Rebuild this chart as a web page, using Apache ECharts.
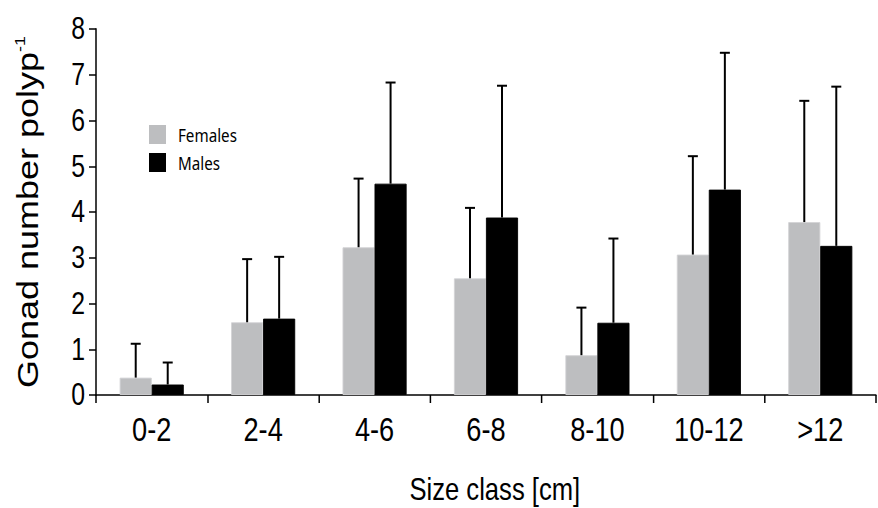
<!DOCTYPE html>
<html>
<head>
<meta charset="utf-8">
<script src="https://cdn.jsdelivr.net/npm/echarts@6/dist/echarts.min.js"></script>
<style>
html,body{margin:0;padding:0;background:#fff;overflow:hidden;width:878px;height:508px;}
#wrap{width:878px;height:508px;overflow:hidden;position:relative;}
#chart{width:1097.5px;height:508px;transform:scaleX(0.8);transform-origin:0 0;position:absolute;left:0;top:0;}
</style>
</head>
<body>
<div id="wrap"><div id="chart"></div></div>
<script>
var categories = ['0-2', '2-4', '4-6', '6-8', '8-10', '10-12', '>12'];
var femaleMean = [0.38, 1.59, 3.23, 2.55, 0.87, 3.07, 3.78];
var femaleSD   = [0.74, 1.38, 1.50, 1.54, 1.04, 2.15, 2.65];
var maleMean   = [0.23, 1.67, 4.62, 3.88, 1.58, 4.49, 3.26];
var maleSD     = [0.48, 1.35, 2.21, 2.88, 1.84, 2.99, 3.48];
var yTicks = [0, 1, 2, 3, 4, 5, 6, 7, 8];

// the original figure is horizontally condensed; the chart is drawn wider and squeezed by CSS (scaleX 0.8)
var SX = 0.8;
var FONT = "'Liberation Sans', Arial, Helvetica, sans-serif";
var LEG_FONT = "'Noto Sans', 'Open Sans', sans-serif";
var BAR_W = 32 / SX;

function errData(mean, sd) {
  return mean.map(function (m, i) { return [i, m, sd[i]]; });
}
function errRender(offset) {
  return function (params, api) {
    var base = api.coord([api.value(0), api.value(1)]);
    var top = api.coord([api.value(0), api.value(1) + api.value(2)]);
    var x = base[0] + offset;
    var cap = 5 / SX;
    return {
      type: 'group',
      children: [
        { type: 'line', shape: { x1: x, y1: base[1], x2: x, y2: top[1] },
          style: { stroke: '#000', lineWidth: 2 / SX } },
        { type: 'line', shape: { x1: x - cap, y1: top[1], x2: x + cap, y2: top[1] },
          style: { stroke: '#000', lineWidth: 2 } }
      ]
    };
  };
}

var chart = echarts.init(document.getElementById('chart'), null, { renderer: 'svg', width: 878 / SX, height: 508 });
chart.setOption({
  animation: false,
  backgroundColor: '#ffffff',
  grid: { left: 96 / SX, right: 2 / SX, top: 29, bottom: 113, containLabel: false, outerBoundsMode: 'none' },
  legend: {
    data: ['Females', 'Males'],
    orient: 'vertical',
    left: 145 / SX, top: 120,
    icon: 'rect',
    itemWidth: 17 / SX, itemHeight: 19, itemGap: 9,
    textStyle: { fontFamily: LEG_FONT, fontSize: 19, color: '#000', padding: [0, 0, 0, 10] },
    itemStyle: { borderWidth: 0 }
  },
  xAxis: {
    type: 'category',
    data: categories,
    boundaryGap: true,
    axisLine: { lineStyle: { color: '#000', width: 1.5 } },
    axisTick: { show: true, length: 8, inside: false, lineStyle: { color: '#000', width: 1.5 / SX } },
    axisLabel: { fontFamily: FONT, fontSize: 34, color: '#000', margin: 17, interval: 0 },
    name: 'Size class [cm]',
    nameLocation: 'middle',
    nameGap: 78,
    nameTextStyle: { fontFamily: FONT, fontSize: 32, color: '#000', padding: [0, 0, 0, 22] },
    splitLine: { show: false }
  },
  yAxis: {
    type: 'value',
    min: yTicks[0], max: yTicks[yTicks.length - 1], interval: 1,
    axisLine: { show: true, lineStyle: { color: '#000', width: 1.5 / SX } },
    axisTick: { show: true, length: 7 / SX, inside: false, lineStyle: { color: '#000', width: 1.5 } },
    axisLabel: { fontFamily: FONT, fontSize: 31, color: '#000', margin: 11 / SX },
    splitLine: { show: false },
    name: '{a|Gonad number polyp}{s|-1}',
    nameLocation: 'middle',
    nameGap: 66,
    nameTextStyle: {
      color: '#000',
      rich: {
        a: { fontFamily: FONT, fontSize: 36, color: '#000' },
        s: { fontFamily: FONT, fontSize: 18, color: '#000', padding: [0, 0, 20, 0] }
      }
    }
  },
  series: [
    {
      name: 'Females', type: 'bar', data: femaleMean,
      barWidth: BAR_W, barGap: '0%',
      itemStyle: { color: '#bdbec0', borderColor: '#d2d3d5', borderWidth: 1 },
      z: 2
    },
    {
      name: 'Males', type: 'bar', data: maleMean,
      barWidth: BAR_W, barGap: '0%',
      itemStyle: { color: '#000000', borderColor: '#000', borderWidth: 1 },
      z: 2
    },
    {
      name: 'Females SD', type: 'custom', data: errData(femaleMean, femaleSD),
      renderItem: errRender(-BAR_W / 2), z: 3, silent: true,
      encode: { x: 0, y: [1, 2] }
    },
    {
      name: 'Males SD', type: 'custom', data: errData(maleMean, maleSD),
      renderItem: errRender(BAR_W / 2), z: 3, silent: true,
      encode: { x: 0, y: [1, 2] }
    }
  ]
});
</script>
</body>
</html>
